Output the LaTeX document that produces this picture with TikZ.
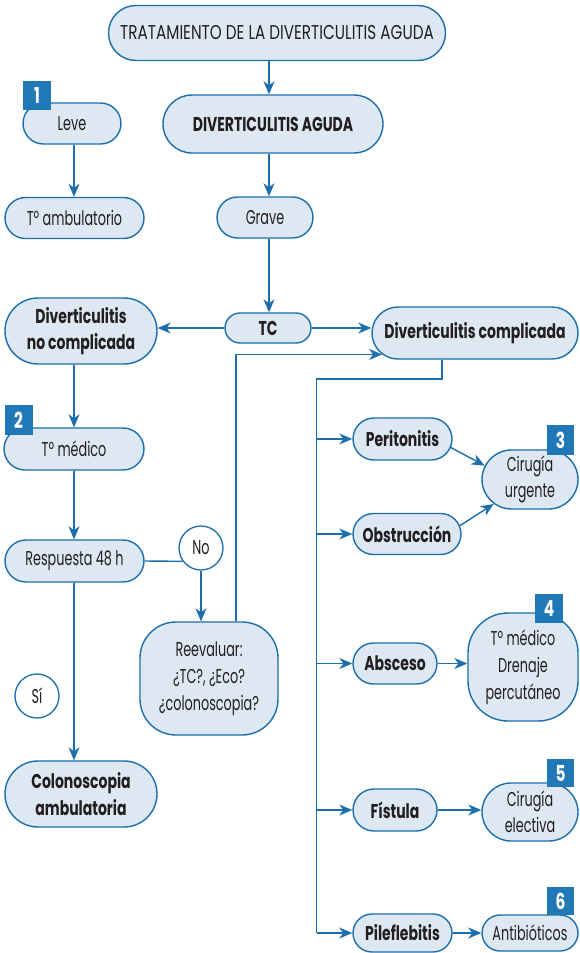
\documentclass[tikz,border=0pt]{standalone}
\usepackage{fontspec}
\setmainfont{Poppins}[FakeStretch=0.64]
\newfontfamily\titlef{Poppins}[FakeStretch=0.76]
\newfontfamily\boldf{Poppins}[FakeStretch=0.70]
\usetikzlibrary{shapes.misc,arrows.meta,calc}
\definecolor{bc}{RGB}{28,110,172}
\definecolor{bf}{RGB}{222,232,243}
\definecolor{badgec}{RGB}{33,120,182}
\definecolor{tx}{RGB}{35,31,32}
\tikzset{
  stad/.style={rounded rectangle, draw=bc, fill=bf, line width=1.4pt, inner sep=0pt, text=tx, align=center,
     font=\fontsize{20}{26.5}\selectfont},
  rbox/.style={rectangle, rounded corners=36pt, draw=bc, fill=bf, line width=1.4pt, inner sep=0pt, text=tx, align=center,
     font=\fontsize{20}{27}\selectfont},
  bld/.style={font=\fontsize{20}{26.5}\selectfont\boldf\bfseries},
  circ/.style={circle, draw=bc, fill=white, line width=1.3pt, minimum size=44pt, inner sep=0pt, text=tx,
     font=\fontsize{20}{22}\selectfont},
  badge/.style={rectangle, fill=badgec, inner sep=0pt, text=white, font=\fontsize{22}{22}\selectfont\boldf\bfseries},
  wh/.style 2 args={minimum width=#1pt, minimum height=#2pt},
  conn/.style={draw=bc, line width=1.4pt},
  arr/.style={conn, -{Stealth[length=13pt,width=11pt,inset=4pt]}},
}
\begin{document}
\begin{tikzpicture}[x=1pt,y=-1pt]
\useasboundingbox (0,0) rectangle (580,953);
% column coordinates
\coordinate (colx) at (269,0);
\coordinate (colL) at (74,0);
\coordinate (retx) at (236,0);
\coordinate (dropx) at (442,0);
\coordinate (trunk) at (316.5,379);

\node[stad, wh={337}{55}, font=\fontsize{20}{24}\selectfont\titlef] (title) at (277,33) {TRATAMIENTO DE LA DIVERTICULITIS AGUDA};
\node[stad, bld, wh={220}{58}] (da) at (273,124) {DIVERTICULITIS AGUDA};
\node[stad, wh={98}{41}] (leve) at (72,123.5) {Leve};
\node[stad, wh={139}{41}] (tamb) at (74.5,218) {Tº ambulatorio};
\node[stad, wh={96}{41}] (grave) at (265,217.5) {Grave};
\node[stad, bld, wh={86}{30}] (tc) at (268,328) {TC};
\node[stad, bld, wh={152}{66}] (noc) at (81,331) {Diverticulitis\\no complicada};
\node[stad, bld, wh={206}{52}] (comp) at (475,333) {Diverticulitis complicada};
\node[stad, wh={140}{42}] (tmed) at (74,449) {Tº médico};
\node[stad, wh={139}{42}] (resp) at (74.5,561) {Respuesta 48 h};
\node[circ] (no) at (201,548) {No};
\node[rbox, wh={138}{113}] (reev) at (209,678.5) {Reevaluar:\\¿TC?, ¿Eco?\\¿colonoscopia?};
\node[circ] (si) at (37,696) {Sí};
\node[stad, bld, wh={152}{66}] (colo) at (81,794) {Colonoscopia\\ambulatoria};

\node[stad, bld, wh={99}{42}] (perit) at (402.5,439) {Peritonitis};
\node[stad, wh={96}{59}] (ciru) at (530,479.5) {Cirugía\\urgente};
\node[stad, bld, wh={108}{41}] (obst) at (407,534) {Obstrucción};
\node[stad, bld, wh={84}{41}] (absc) at (395,663.5) {Absceso};
\node[rbox, rounded corners=40pt, wh={110}{108}] (tmd) at (523,667) {Tº médico\\Drenaje\\percutáneo};
\node[stad, bld, wh={84}{42}] (fist) at (395,810) {Fístula};
\node[stad, wh={96}{58}] (cire) at (530,812) {Cirugía\\electiva};
\node[stad, bld, wh={99}{38}] (pile) at (402.5,933) {Pileflebitis};
\node[stad, wh={96}{36}] (anti) at (530,933) {Antibióticos};

% badges
\node[badge, wh={28}{29}] (b1) at (37,95.5) {1};
\node[badge, wh={28}{30}] (b2) at (18.5,420) {2};
\node[badge, wh={27}{30}] (b3) at (560.5,440) {3};
\node[badge, wh={28}{29}] (b4) at (549,608.5) {4};
\node[badge, wh={27}{28}] (b5) at (560.5,773) {5};
\node[badge, wh={27}{28}] (b6) at (560.5,901) {6};

% connectors
\draw[arr] (title.south -| colx) -- (da.north -| colx);
\draw[arr] (da.south -| colx) -- (grave.north -| colx);
\draw[arr] (grave.south -| colx) -- (tc.north -| colx);
\draw[arr] (tc.west) -- (tc.west -| noc.east);
\draw[arr] (tc.east) -- (tc.east -| comp.west);
\draw[arr] (leve.south -| colL) -- (tamb.north -| colL);
\draw[arr] (noc.south -| colL) -- (tmed.north -| colL);
\draw[arr] (tmed.south -| colL) -- (resp.north -| colL);
\draw[arr] (resp.south -| colL) -- (colo.north -| colL);
\draw[conn] (resp.east) -- (no.216);
\draw[arr] (no.south) -- (no.south |- reev.north);
\draw[arr] (reev.north -| retx) |- (comp.193.6);
\draw[conn] (comp.south -| dropx) |- (trunk) -- (trunk |- pile.west);
\draw[arr] (trunk |- perit.west) -- (perit.west);
\draw[arr] (trunk |- obst.west) -- (obst.west);
\draw[arr] (trunk |- absc.west) -- (absc.west);
\draw[arr] (trunk |- fist.west) -- (fist.west);
\draw[arr] (trunk |- pile.west) -- (pile.west);
\draw[arr] (perit.-10) -- (ciru.163);
\draw[arr] (obst.9) -- (ciru.214);
\draw[arr] (absc.east) -- (absc.east -| tmd.west);
\draw[arr] (fist.east) -- (fist.east -| cire.west);
\draw[arr] (pile.east) -- (pile.east -| anti.west);
\end{tikzpicture}
\end{document}
